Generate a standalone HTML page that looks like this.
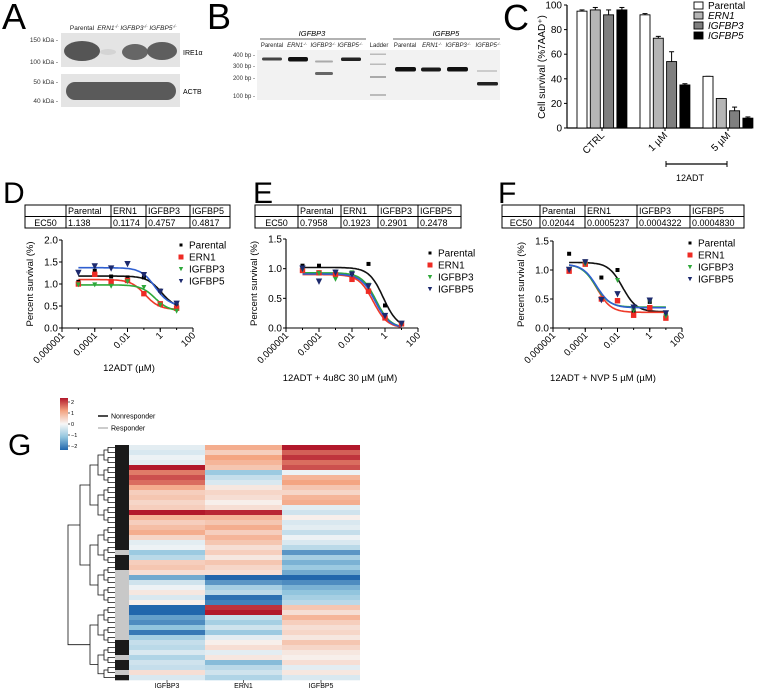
<!DOCTYPE html>
<html><head><meta charset="utf-8">
<style>
html,body{margin:0;padding:0;background:#fff;}
svg{display:block;font-family:"Liberation Sans",Arial,sans-serif;}
</style></head>
<body>
<svg id="fig" width="759" height="690" viewBox="0 0 759 690" xmlns="http://www.w3.org/2000/svg">
<g>
 <text x="2" y="29" font-size="36">A</text>
 <g font-size="6.5" font-style="italic" fill="#222">
  <text x="82" y="30" text-anchor="middle" font-style="normal">Parental</text>
  <text x="108" y="30" text-anchor="middle">ERN1<tspan font-size="4.5" dy="-2">-/-</tspan></text>
  <text x="134" y="30" text-anchor="middle">IGFBP3<tspan font-size="4.5" dy="-2">-/-</tspan></text>
  <text x="163" y="30" text-anchor="middle">IGFBP5<tspan font-size="4.5" dy="-2">-/-</tspan></text>
 </g>
 <rect x="61" y="33" width="119" height="34" fill="#e4e4e4"/>
 <ellipse cx="82" cy="51" rx="18" ry="10" fill="#555"/>
 <ellipse cx="108" cy="52" rx="8" ry="3" fill="#d4d4d4"/>
 <ellipse cx="135" cy="52" rx="13" ry="8" fill="#666"/>
 <ellipse cx="162" cy="51" rx="15" ry="9" fill="#5e5e5e"/>
 <rect x="61" y="74" width="119" height="33" fill="#e4e4e4"/>
 <rect x="66" y="82" width="110" height="18" rx="9" fill="#5a5a5a"/>
 <g font-size="6.5" fill="#333" text-anchor="end">
  <text x="58" y="42">150 kDa -</text>
  <text x="58" y="64">100 kDa -</text>
  <text x="58" y="84">50 kDa -</text>
  <text x="58" y="103">40 kDa -</text>
 </g>
 <text x="183" y="55" font-size="7">IRE1α</text>
 <text x="183" y="94" font-size="7">ACTB</text>
</g>

<g>
 <text x="207" y="29" font-size="36">B</text>
 <text x="312" y="36" font-size="7.5" font-style="italic" text-anchor="middle">IGFBP3</text>
 <line x1="260" y1="39" x2="366" y2="39" stroke="#333" stroke-width="0.8"/>
 <text x="446" y="36" font-size="7.5" font-style="italic" text-anchor="middle">IGFBP5</text>
 <line x1="393" y1="39" x2="500" y2="39" stroke="#333" stroke-width="0.8"/>
 <g font-size="6" text-anchor="middle" font-style="italic" fill="#222">
  <text x="272" y="47" font-style="normal">Parental</text><text x="297" y="47">ERN1<tspan font-size="4" dy="-2">-/-</tspan></text><text x="323" y="47">IGFBP3<tspan font-size="4" dy="-2">-/-</tspan></text><text x="350" y="47">IGFBP5<tspan font-size="4" dy="-2">-/-</tspan></text>
  <text x="379" y="47" font-style="normal">Ladder</text>
  <text x="405" y="47" font-style="normal">Parental</text><text x="432" y="47">ERN1<tspan font-size="4" dy="-2">-/-</tspan></text><text x="458" y="47">IGFBP3<tspan font-size="4" dy="-2">-/-</tspan></text><text x="488" y="47">IGFBP5<tspan font-size="4" dy="-2">-/-</tspan></text>
 </g>
 <rect x="257" y="50" width="243" height="50" fill="#f2f2f2"/>
 <g font-size="6" text-anchor="end" fill="#333">
  <text x="255" y="57">400 bp -</text><text x="255" y="68">300 bp -</text><text x="255" y="80">200 bp -</text><text x="255" y="98">100 bp -</text>
 </g>
 <g>
  <rect x="262" y="57.5" width="20" height="3" rx="1.5" fill="#444"/>
  <rect x="288" y="57" width="20" height="4.5" rx="2" fill="#111"/>
  <rect x="315" y="60.5" width="18" height="2" rx="1" fill="#aaa"/>
  <rect x="315" y="72" width="18" height="3" rx="1.5" fill="#666"/>
  <rect x="341" y="57.5" width="20" height="3.5" rx="1.5" fill="#222"/>
  <rect x="370" y="53.5" width="16" height="1.5" fill="#bbb"/>
  <rect x="370" y="63.5" width="16" height="1.5" fill="#bbb"/>
  <rect x="370" y="76" width="16" height="2" fill="#aaa"/>
  <rect x="370" y="94" width="16" height="2" fill="#bbb"/>
  <rect x="395" y="67" width="21" height="4.5" rx="2" fill="#111"/>
  <rect x="421" y="67.5" width="20" height="4" rx="2" fill="#1a1a1a"/>
  <rect x="447" y="67" width="21" height="4.5" rx="2" fill="#111"/>
  <rect x="477" y="70" width="20" height="2" fill="#ccc"/>
  <rect x="477" y="82" width="21" height="3.5" rx="1.5" fill="#222"/>
 </g>
</g>

<g id="panelC">
 <text x="503" y="30" font-size="36">C</text>
</g>
<g id="panelD"></g>
<g id="panelE"></g>
<g id="panelF"></g>
<g id="panelG"></g>
</svg>

<script>
const NS = "http://www.w3.org/2000/svg";
function mk(parent, tag, attrs, text) {
  const e = document.createElementNS(NS, tag);
  for (const k in attrs) e.setAttribute(k, attrs[k]);
  if (text !== undefined) e.textContent = text;
  parent.appendChild(e);
  return e;
}

// ---------- Panel C data ----------
const cGroups = ["CTRL", "1 µM", "5 µM"];
const cSeries = ["Parental", "ERN1", "IGFBP3", "IGFBP5"];
const cParental = [95, 92, 42];
const cERN1 = [96, 73, 24];
const cIGFBP3 = [92, 54, 14];
const cIGFBP5 = [96, 35, 8];
const cErrParental = [1, 1, 0];
const cErrERN1 = [2, 1.5, 0];
const cErrIGFBP3 = [4, 8, 3];
const cErrIGFBP5 = [2, 1, 1];
const cTicks = [0, 20, 40, 60, 80, 100];

// ---------- Dose-response data (log10 µM) ----------
const doses = [-5, -4, -3, -2, -1, 0, 1];
const drSeries = ["Parental", "ERN1", "IGFBP3", "IGFBP5"];
const ec50Names = ["Parental", "ERN1", "IGFBP3", "IGFBP5"];
const dEC50 = ["1.138", "0.1174", "0.4757", "0.4817"];
const eEC50 = ["0.7958", "0.1923", "0.2901", "0.2478"];
const fEC50 = ["0.02044", "0.0005237", "0.0004322", "0.0004830"];

const dParental = [1.05, 1.3, 1.17, 1.15, 1.15, 0.85, 0.55];
const dERN1 = [1.0, 1.22, 1.05, 1.08, 0.78, 0.55, 0.45];
const dIGFBP3 = [0.98, 0.98, 0.95, 1.05, 0.92, 0.52, 0.38];
const dIGFBP5 = [1.25, 1.4, 1.35, 1.45, 1.2, 0.82, 0.55];
const dTop = [1.18, 1.1, 0.98, 1.37];
const dBottom = [0.45, 0.42, 0.38, 0.5];
const dLogEC50 = [0.056, -0.93, -0.32, -0.32];

const eParental = [1.05, 1.05, 0.95, 0.93, 1.08, 0.38, 0.08];
const eERN1 = [0.97, 0.93, 0.9, 0.82, 0.62, 0.17, 0.07];
const eIGFBP3 = [0.98, 0.92, 0.82, 0.93, 0.72, 0.2, 0.06];
const eIGFBP5 = [1.0, 0.78, 0.93, 0.9, 0.7, 0.2, 0.07];
const eTop = [1.02, 0.9, 0.93, 0.91];
const eBottom = [0, 0, 0, 0];
const eLogEC50 = [-0.1, -0.72, -0.54, -0.6];

const fParental = [1.28, 1.15, 0.87, 1.0, 0.3, 0.45, 0.22];
const fERN1 = [0.98, 1.1, 0.5, 0.47, 0.22, 0.35, 0.17];
const fIGFBP3 = [1.0, 1.1, 0.48, 0.82, 0.3, 0.45, 0.2];
const fIGFBP5 = [1.0, 1.13, 0.48, 0.58, 0.35, 0.47, 0.25];
const fTop = [1.13, 1.1, 1.1, 1.1];
const fBottom = [0.28, 0.27, 0.36, 0.35];
const fLogEC50 = [-1.69, -3.28, -3.36, -3.3];

const xTickLabels = ["0.000001", "0.0001", "0.01", "1", "100"];
const xTickLogs = [-6, -4, -2, 0, 2];

// ---------- Heatmap data ----------
const hmColumns = ["IGFBP3", "ERN1", "IGFBP5"];
const hmIGFBP3 = [-0.2,-0.3,-0.1,-0.2,2.0,1.3,1.6,1.4,0.9,0.5,0.6,0.4,0.5,2.0,0.8,0.5,0.7,0.9,0.4,-0.2,-0.1,-0.9,-0.6,0.5,0.6,0.3,-1.3,-0.4,-0.1,0.2,-0.3,0.1,-2.0,-2.2,-1.4,-1.6,-1.0,-1.8,-0.8,-0.5,-0.6,-0.3,-0.7,-0.4,-0.5,0.3,-0.3];
const hmERN1 = [0.9,0.5,1.0,0.8,0.6,-0.9,-0.5,-0.3,0.2,0.4,0.3,0.1,0.3,1.9,0.8,0.6,0.9,0.5,0.8,0.6,0.3,0.5,0.2,0.6,0.4,0.3,-2.0,-1.5,-0.8,-0.6,-1.9,-1.7,1.8,2.2,-0.5,-0.8,-0.4,-0.9,-0.2,0.1,0.3,-0.2,0.2,-1.1,-0.6,-0.4,-0.7];
const hmIGFBP5 = [2.2,1.5,1.8,1.4,1.6,-0.1,0.8,1.0,0.6,0.4,0.8,0.9,-0.2,-0.4,0.1,-0.3,-0.2,-0.5,-0.1,-0.3,-0.6,-1.5,-0.8,-1.2,-0.9,-1.3,-2.2,-1.6,-1.2,-1.0,-0.8,-0.6,0.6,0.3,0.8,0.5,0.3,0.4,0.2,0.6,0.4,0.2,0.1,0.3,-0.2,0.2,-0.3];
const hmGroup = [1,1,1,1,1,1,1,1,1,1,1,1,1,1,1,1,1,1,1,1,1,0,1,1,1,0,0,0,0,0,0,0,0,0,0,0,0,0,0,1,1,1,0,1,1,0,1];
const cbTicks = [2, 1, 0, -1, -2];

// ================= Panel C =================
(function () {
  const g = document.getElementById("panelC");
  const ax0 = 567, ax1 = 752, y0 = 128, yTop = 5;
  const ys = v => y0 - (v / 100) * (y0 - yTop);
  const vals = [cParental, cERN1, cIGFBP3, cIGFBP5];
  const errs = [cErrParental, cErrERN1, cErrIGFBP3, cErrIGFBP5];
  const fills = ["#ffffff", "#b5b5b5", "#7f7f7f", "#000000"];
  const gx = i => 577 + i * 63;
  mk(g, "line", { x1: ax0, y1: yTop, x2: ax0, y2: y0, stroke: "#000", "stroke-width": 1.2 });
  mk(g, "line", { x1: ax0, y1: y0, x2: ax1, y2: y0, stroke: "#000", "stroke-width": 1.2 });
  cTicks.forEach(t => {
    mk(g, "line", { x1: ax0 - 3, y1: ys(t), x2: ax0, y2: ys(t), stroke: "#000" });
    const tl = mk(g, "text", { x: ax0 - 5, y: ys(t) + 3.5, "font-size": 10, "text-anchor": "end" }, String(t));
    
    
  });
  const yt = mk(g, "text", { x: 0, y: 0, "font-size": 10, "text-anchor": "middle", transform: "translate(545,67) rotate(-90)" }, "Cell survival (%7AAD⁺)");
  
  
  cGroups.forEach((grp, gi) => {
    vals.forEach((arr, si) => {
      const x = gx(gi) + si * 13.3;
      const v = arr[gi], e = errs[si][gi];
      mk(g, "line", { x1: x + 5, y1: ys(v + e), x2: x + 5, y2: ys(v), stroke: "#000" });
      mk(g, "line", { x1: x + 2.5, y1: ys(v + e), x2: x + 7.5, y2: ys(v + e), stroke: "#000" });
      const b = mk(g, "rect", { x: x, y: ys(v), width: 10, height: y0 - ys(v), fill: fills[si], stroke: "#000", "stroke-width": 0.9 });
      
      
    });
    const cx = gx(gi) + 25;
    mk(g, "line", { x1: cx, y1: y0, x2: cx, y2: y0 + 3, stroke: "#000" });
    const tl = mk(g, "text", { x: 0, y: 0, "font-size": 10, "text-anchor": "end", transform: `translate(${cx + 3},${y0 + 8}) rotate(-45)` }, grp);
    
    
  });
  mk(g, "line", { x1: 666, y1: 164, x2: 727, y2: 164, stroke: "#000", "stroke-width": 1.2 });
  mk(g, "line", { x1: 666, y1: 161, x2: 666, y2: 167, stroke: "#000" });
  mk(g, "line", { x1: 727, y1: 161, x2: 727, y2: 167, stroke: "#000" });
  const lbl = mk(g, "text", { x: 690, y: 181, "font-size": 9, "text-anchor": "middle" }, "12ADT");
  
  
  cSeries.forEach((s, i) => {
    const y = 2 + i * 10;
    const r = mk(g, "rect", { x: 694, y: y, width: 9, height: 7, fill: fills[i], stroke: "#000", "stroke-width": 0.9 });
    
    
    const t = mk(g, "text", { x: 708, y: y + 7, "font-size": 10, "font-style": i ? "italic" : "normal" }, s);
    
    
  });
})();

// ================= Dose-response panels =================
function drPanel(id, letter, cfg) {
  const g = document.getElementById(id);
  const L = mk(g, "text", { x: cfg.letterX, y: 203, "font-size": 30 }, letter);
  
  
  const tb = mk(g, "g", {});
  
  
  const cols = cfg.tableCols;
  const ty = 205, rh = 11.5;
  mk(tb, "rect", { x: cols[0], y: ty, width: cols[cols.length - 1] - cols[0], height: rh * 2, fill: "#fff", stroke: "#000", "stroke-width": 1 });
  mk(tb, "line", { x1: cols[0], y1: ty + rh, x2: cols[cols.length - 1], y2: ty + rh, stroke: "#000" });
  for (let i = 1; i < cols.length - 1; i++) mk(tb, "line", { x1: cols[i], y1: ty, x2: cols[i], y2: ty + 2 * rh, stroke: "#000" });
  ec50Names.forEach((n, i) => {
    mk(tb, "text", { x: cols[i + 1] + 2, y: ty + 9, "font-size": 9 }, n);
    mk(tb, "text", { x: cols[i + 1] + 2, y: ty + rh + 9.5, "font-size": 9 }, cfg.ec50[i]);
  });
  mk(tb, "text", { x: (cols[0] + cols[1]) / 2, y: ty + rh + 9.5, "font-size": 9, "text-anchor": "middle" }, "EC50");

  const xs = lv => cfg.x0 + (lv + 6) / 8 * (cfg.x1 - cfg.x0);
  const ys = v => cfg.y0 - v / cfg.ymax * (cfg.y0 - cfg.yTop);
  mk(g, "line", { x1: cfg.x0, y1: cfg.yTop, x2: cfg.x0, y2: cfg.y0, stroke: "#000", "stroke-width": 1.1 });
  mk(g, "line", { x1: cfg.x0, y1: cfg.y0, x2: cfg.x1, y2: cfg.y0, stroke: "#000", "stroke-width": 1.1 });
  for (let v = 0; v <= cfg.ymax + 1e-9; v += 0.5) {
    mk(g, "line", { x1: cfg.x0 - 3, y1: ys(v), x2: cfg.x0, y2: ys(v), stroke: "#000" });
    const t = mk(g, "text", { x: cfg.x0 - 4, y: ys(v) + 3.5, "font-size": 10, "text-anchor": "end" }, v.toFixed(1));
    
    
  }
  for (let lv = -6; lv <= 2; lv++) mk(g, "line", { x1: xs(lv), y1: cfg.y0, x2: xs(lv), y2: cfg.y0 + 2, stroke: "#000" });
  xTickLogs.forEach((lv, i) => {
    mk(g, "line", { x1: xs(lv), y1: cfg.y0, x2: xs(lv), y2: cfg.y0 + 4, stroke: "#000" });
    const t = mk(g, "text", { x: 0, y: 0, "font-size": 9.5, "text-anchor": "end", transform: `translate(${xs(lv) + 3},${cfg.y0 + 8}) rotate(-45)` }, xTickLabels[i]);
    
    
  });
  const yt = mk(g, "text", { x: 0, y: 0, "font-size": 9.5, "text-anchor": "middle", transform: `translate(${cfg.x0 - 29},${(cfg.y0 + cfg.yTop) / 2}) rotate(-90)` }, "Percent survival (%)");
  
  
  const xt = mk(g, "text", { x: cfg.xlabX, y: cfg.xlabY, "font-size": 9.5, "text-anchor": "middle" }, cfg.xlabel);
  
  

  const colors = ["#000000", "#ee2b24", "#2ea83a", "#1d2a6e"];
  const curveColors = ["#111111", "#ee3a2a", "#2eaa3a", "#2f5fd0"];
  drSeries.forEach((s, si) => {
    let d = "";
    for (let k = 0; k <= 80; k++) {
      const lv = -5 + k * 6 / 80;
      const v = cfg.bottom[si] + (cfg.top[si] - cfg.bottom[si]) / (1 + Math.pow(10, (lv - cfg.logec[si])));
      d += (k ? "L" : "M") + xs(lv).toFixed(1) + "," + ys(v).toFixed(1);
    }
    const p = mk(g, "path", { d: d, fill: "none", stroke: curveColors[si], "stroke-width": 1.6 });
    
    
  });
  drSeries.forEach((s, si) => {
    const arr = cfg.data[si];
    doses.forEach((lv, j) => {
      const x = xs(lv), y = ys(arr[j]);
      let m;
      if (si === 0) m = mk(g, "rect", { x: x - 2, y: y - 2, width: 4, height: 4, fill: colors[0] });
      else if (si === 1) m = mk(g, "rect", { x: x - 2.7, y: y - 2.7, width: 5.4, height: 5.4, fill: colors[1] });
      else {
        const r = si === 2 ? 2.5 : 3.2;
        m = mk(g, "path", { d: `M${x - r},${y - r}L${x + r},${y - r}L${x},${y + r}Z`, fill: colors[si] });
      }
      
      
    });
  });
  drSeries.forEach((s, si) => {
    const ly = cfg.legY + si * 12, lx = cfg.legX;
    let m;
    if (si === 0) m = mk(g, "rect", { x: lx - 1.5, y: ly - 1.5, width: 3, height: 3, fill: colors[0] });
    else if (si === 1) m = mk(g, "rect", { x: lx - 2.5, y: ly - 2.5, width: 5, height: 5, fill: colors[1] });
    else m = mk(g, "path", { d: `M${lx - 2.2},${ly - 2}L${lx + 2.2},${ly - 2}L${lx},${ly + 2.2}Z`, fill: colors[si] });
    
    
    const t = mk(g, "text", { x: lx + 8, y: ly + 3.5, "font-size": 10 }, s);
    
    
  });
}

drPanel("panelD", "D", {
  letterX: 3, tableCols: [25, 66, 111, 146, 190, 230], ec50: dEC50,
  x0: 62, x1: 193, y0: 328, yTop: 240, ymax: 2.0,
  data: [dParental, dERN1, dIGFBP3, dIGFBP5], top: dTop, bottom: dBottom, logec: dLogEC50,
  legX: 181, legY: 245, xlabel: "12ADT (µM)", xlabX: 129, xlabY: 371
});
drPanel("panelE", "E", {
  letterX: 253, tableCols: [255, 298, 341, 378, 418, 461], ec50: eEC50,
  x0: 286, x1: 418, y0: 328, yTop: 239, ymax: 1.5,
  data: [eParental, eERN1, eIGFBP3, eIGFBP5], top: eTop, bottom: eBottom, logec: eLogEC50,
  legX: 430, legY: 253, xlabel: "12ADT + 4u8C 30 µM (µM)", xlabX: 340, xlabY: 381
});
drPanel("panelF", "F", {
  letterX: 498, tableCols: [502, 540, 585, 637, 690, 744], ec50: fEC50,
  x0: 553, x1: 682, y0: 328, yTop: 241, ymax: 1.5,
  data: [fParental, fERN1, fIGFBP3, fIGFBP5], top: fTop, bottom: fBottom, logec: fLogEC50,
  legX: 690, legY: 243, xlabel: "12ADT + NVP 5 µM (µM)", xlabX: 603, xlabY: 381
});

// ================= Panel G heatmap =================
(function () {
  const g = document.getElementById("panelG");
  const L = mk(g, "text", { x: 8, y: 455, "font-size": 30 }, "G");
  
  
  const stops = [[-2, [33, 102, 172]], [-1, [146, 197, 222]], [0, [247, 247, 247]], [1, [244, 165, 130]], [2, [178, 24, 43]]];
  function color(v) {
    v = Math.max(-2.3, Math.min(2.3, v));
    if (v <= -2) return "rgb(" + stops[0][1].join(",") + ")";
    if (v >= 2) return "rgb(" + stops[4][1].join(",") + ")";
    for (let i = 0; i < 4; i++) {
      const a = stops[i], b = stops[i + 1];
      if (v >= a[0] && v <= b[0]) {
        const t = (v - a[0]) / (b[0] - a[0]);
        return "rgb(" + a[1].map((c, k) => Math.round(c + (b[1][k] - c) * t)).join(",") + ")";
      }
    }
  }
  const cbTop = 398, cbBot = 450;
  const grad = mk(g, "defs", {});
  const lg = mk(grad, "linearGradient", { id: "cbg", x1: 0, y1: 0, x2: 0, y2: 1 });
  [2, 1, 0, -1, -2].forEach((v, i) => mk(lg, "stop", { offset: i / 4, "stop-color": color(v) }));
  const cb = mk(g, "rect", { x: 60, y: cbTop, width: 8, height: cbBot - cbTop, fill: "url(#cbg)" });
  
  
  cbTicks.forEach((t, i) => {
    const y = cbTop + 4 + i * (cbBot - cbTop - 8) / 4;
    mk(g, "line", { x1: 68, y1: y, x2: 70, y2: y, stroke: "#000", "stroke-width": 0.6 });
    const tl = mk(g, "text", { x: 71, y: y + 2, "font-size": 5.5 }, t > 0 ? String(t) : (t < 0 ? "−" + (-t) : "0"));
    
    
  });
  mk(g, "line", { x1: 98, y1: 416, x2: 108, y2: 416, stroke: "#111", "stroke-width": 1.5 });
  const t1 = mk(g, "text", { x: 111, y: 418.5, "font-size": 7 }, "Nonresponder");
  
  
  mk(g, "line", { x1: 98, y1: 428, x2: 108, y2: 428, stroke: "#bbb", "stroke-width": 1.5 });
  const t2 = mk(g, "text", { x: 111, y: 430.5, "font-size": 7 }, "Responder");
  
  

  const hx = [129, 205, 282, 360], hy0 = 445, hy1 = 680;
  const n = hmIGFBP3.length, rh = (hy1 - hy0) / n;
  const cols = [hmIGFBP3, hmERN1, hmIGFBP5];
  cols.forEach((arr, ci) => {
    arr.forEach((v, r) => {
      const c = mk(g, "rect", { x: hx[ci], y: hy0 + r * rh, width: hx[ci + 1] - hx[ci], height: rh + 0.3, fill: color(v) });
      
      
    });
    const cx = (hx[ci] + hx[ci + 1]) / 2;
    mk(g, "line", { x1: cx, y1: hy1, x2: cx, y2: hy1 + 3, stroke: "#000", "stroke-width": 0.6 });
    const lab = mk(g, "text", { x: cx, y: 688, "font-size": 7, "text-anchor": "middle" }, hmColumns[ci]);
    
    
  });
  hmGroup.forEach((gr, r) => {
    const s = mk(g, "rect", { x: 115, y: hy0 + r * rh, width: 14, height: rh + 0.3, fill: gr ? "#1a1a1a" : "#c8c8c8" });
    
    
  });
  const dg = mk(g, "g", { stroke: "#111", "stroke-width": 0.8, fill: "none" });
  
  
  let nodes = [];
  for (let r = 0; r < n; r++) nodes.push({ y: hy0 + (r + 0.5) * rh, x: 115 });
  const levelX = [108, 104, 98, 90, 80, 68, 58];
  let lvl = 0;
  while (nodes.length > 1) {
    const next = [];
    const nx = levelX[Math.min(lvl, levelX.length - 1)];
    for (let i = 0; i < nodes.length; i += 2) {
      if (i + 1 >= nodes.length) { next.push(nodes[i]); continue; }
      const a = nodes[i], b = nodes[i + 1];
      mk(dg, "path", { d: `M${a.x},${a.y}H${nx}V${b.y}H${b.x}` });
      next.push({ x: nx, y: (a.y + b.y) / 2 });
    }
    nodes = next; lvl++;
  }
})();
</script>
</body></html>
